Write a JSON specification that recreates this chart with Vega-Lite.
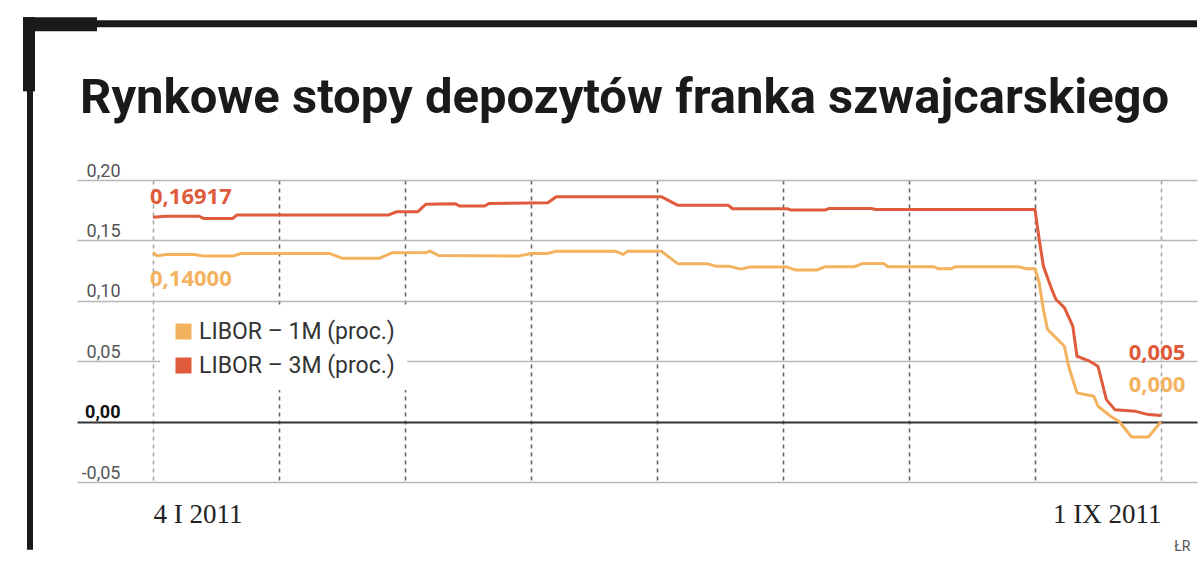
{
  "$schema": "https://vega.github.io/schema/vega-lite/v6.json",
  "width": 1120,
  "height": 302,
  "autosize": {"type": "none"},
  "padding": {"left": 77, "top": 180, "right": 3, "bottom": 81},
  "background": "white",
  "config": {"view": {"stroke": null}, "font": "Roboto"},
  "title": {
    "text": "Rynkowe stopy depozytów franka szwajcarskiego",
    "font": "Roboto",
    "fontSize": 49,
    "fontWeight": "bold",
    "color": "#1a1a1a",
    "anchor": "start",
    "frame": "group",
    "baseline": "alphabetic",
    "dx": 3,
    "offset": -145
  },
  "datasets": {
    "libor": [
      {"series": "LIBOR – 1M (proc.)", "date": "2011-01-04", "value": 0.1400},
      {"series": "LIBOR – 1M (proc.)", "date": "2011-01-05", "value": 0.1372},
      {"series": "LIBOR – 1M (proc.)", "date": "2011-01-07", "value": 0.1384},
      {"series": "LIBOR – 1M (proc.)", "date": "2011-01-14", "value": 0.1384},
      {"series": "LIBOR – 1M (proc.)", "date": "2011-01-16", "value": 0.1370},
      {"series": "LIBOR – 1M (proc.)", "date": "2011-01-23", "value": 0.1370},
      {"series": "LIBOR – 1M (proc.)", "date": "2011-01-25", "value": 0.1392},
      {"series": "LIBOR – 1M (proc.)", "date": "2011-02-15", "value": 0.1392},
      {"series": "LIBOR – 1M (proc.)", "date": "2011-02-18", "value": 0.1353},
      {"series": "LIBOR – 1M (proc.)", "date": "2011-02-27", "value": 0.1353},
      {"series": "LIBOR – 1M (proc.)", "date": "2011-03-02", "value": 0.1398},
      {"series": "LIBOR – 1M (proc.)", "date": "2011-03-10", "value": 0.1400},
      {"series": "LIBOR – 1M (proc.)", "date": "2011-03-11", "value": 0.1411},
      {"series": "LIBOR – 1M (proc.)", "date": "2011-03-13", "value": 0.1375},
      {"series": "LIBOR – 1M (proc.)", "date": "2011-04-01", "value": 0.1370},
      {"series": "LIBOR – 1M (proc.)", "date": "2011-04-04", "value": 0.1392},
      {"series": "LIBOR – 1M (proc.)", "date": "2011-04-08", "value": 0.1392},
      {"series": "LIBOR – 1M (proc.)", "date": "2011-04-10", "value": 0.1411},
      {"series": "LIBOR – 1M (proc.)", "date": "2011-04-24", "value": 0.1411},
      {"series": "LIBOR – 1M (proc.)", "date": "2011-04-26", "value": 0.1384},
      {"series": "LIBOR – 1M (proc.)", "date": "2011-04-27", "value": 0.1411},
      {"series": "LIBOR – 1M (proc.)", "date": "2011-05-05", "value": 0.1411},
      {"series": "LIBOR – 1M (proc.)", "date": "2011-05-09", "value": 0.1306},
      {"series": "LIBOR – 1M (proc.)", "date": "2011-05-16", "value": 0.1306},
      {"series": "LIBOR – 1M (proc.)", "date": "2011-05-18", "value": 0.1287},
      {"series": "LIBOR – 1M (proc.)", "date": "2011-05-21", "value": 0.1287},
      {"series": "LIBOR – 1M (proc.)", "date": "2011-05-24", "value": 0.1262},
      {"series": "LIBOR – 1M (proc.)", "date": "2011-05-26", "value": 0.1279},
      {"series": "LIBOR – 1M (proc.)", "date": "2011-06-04", "value": 0.1279},
      {"series": "LIBOR – 1M (proc.)", "date": "2011-06-06", "value": 0.1254},
      {"series": "LIBOR – 1M (proc.)", "date": "2011-06-11", "value": 0.1254},
      {"series": "LIBOR – 1M (proc.)", "date": "2011-06-13", "value": 0.1282},
      {"series": "LIBOR – 1M (proc.)", "date": "2011-06-20", "value": 0.1282},
      {"series": "LIBOR – 1M (proc.)", "date": "2011-06-22", "value": 0.1309},
      {"series": "LIBOR – 1M (proc.)", "date": "2011-06-27", "value": 0.1309},
      {"series": "LIBOR – 1M (proc.)", "date": "2011-06-28", "value": 0.1282},
      {"series": "LIBOR – 1M (proc.)", "date": "2011-07-09", "value": 0.1282},
      {"series": "LIBOR – 1M (proc.)", "date": "2011-07-10", "value": 0.1265},
      {"series": "LIBOR – 1M (proc.)", "date": "2011-07-13", "value": 0.1265},
      {"series": "LIBOR – 1M (proc.)", "date": "2011-07-14", "value": 0.1282},
      {"series": "LIBOR – 1M (proc.)", "date": "2011-07-29", "value": 0.1282},
      {"series": "LIBOR – 1M (proc.)", "date": "2011-07-31", "value": 0.1265},
      {"series": "LIBOR – 1M (proc.)", "date": "2011-08-02", "value": 0.1265},
      {"series": "LIBOR – 1M (proc.)", "date": "2011-08-03", "value": 0.1149},
      {"series": "LIBOR – 1M (proc.)", "date": "2011-08-04", "value": 0.0928},
      {"series": "LIBOR – 1M (proc.)", "date": "2011-08-05", "value": 0.0762},
      {"series": "LIBOR – 1M (proc.)", "date": "2011-08-09", "value": 0.0624},
      {"series": "LIBOR – 1M (proc.)", "date": "2011-08-10", "value": 0.0458},
      {"series": "LIBOR – 1M (proc.)", "date": "2011-08-12", "value": 0.0238},
      {"series": "LIBOR – 1M (proc.)", "date": "2011-08-16", "value": 0.0210},
      {"series": "LIBOR – 1M (proc.)", "date": "2011-08-17", "value": 0.0127},
      {"series": "LIBOR – 1M (proc.)", "date": "2011-08-20", "value": 0.0044},
      {"series": "LIBOR – 1M (proc.)", "date": "2011-08-22", "value": 0.0003},
      {"series": "LIBOR – 1M (proc.)", "date": "2011-08-25", "value": -0.0127},
      {"series": "LIBOR – 1M (proc.)", "date": "2011-08-29", "value": -0.0127},
      {"series": "LIBOR – 1M (proc.)", "date": "2011-09-01", "value": 0.0000},
      {"series": "LIBOR – 3M (proc.)", "date": "2011-01-04", "value": 0.16917},
      {"series": "LIBOR – 3M (proc.)", "date": "2011-01-07", "value": 0.1700},
      {"series": "LIBOR – 3M (proc.)", "date": "2011-01-15", "value": 0.1700},
      {"series": "LIBOR – 3M (proc.)", "date": "2011-01-16", "value": 0.1682},
      {"series": "LIBOR – 3M (proc.)", "date": "2011-01-23", "value": 0.1682},
      {"series": "LIBOR – 3M (proc.)", "date": "2011-01-24", "value": 0.1710},
      {"series": "LIBOR – 3M (proc.)", "date": "2011-03-01", "value": 0.1710},
      {"series": "LIBOR – 3M (proc.)", "date": "2011-03-03", "value": 0.1737},
      {"series": "LIBOR – 3M (proc.)", "date": "2011-03-08", "value": 0.1737},
      {"series": "LIBOR – 3M (proc.)", "date": "2011-03-10", "value": 0.1800},
      {"series": "LIBOR – 3M (proc.)", "date": "2011-03-17", "value": 0.1804},
      {"series": "LIBOR – 3M (proc.)", "date": "2011-03-18", "value": 0.1784},
      {"series": "LIBOR – 3M (proc.)", "date": "2011-03-24", "value": 0.1784},
      {"series": "LIBOR – 3M (proc.)", "date": "2011-03-25", "value": 0.1806},
      {"series": "LIBOR – 3M (proc.)", "date": "2011-04-08", "value": 0.1812},
      {"series": "LIBOR – 3M (proc.)", "date": "2011-04-10", "value": 0.1862},
      {"series": "LIBOR – 3M (proc.)", "date": "2011-05-05", "value": 0.1862},
      {"series": "LIBOR – 3M (proc.)", "date": "2011-05-09", "value": 0.1790},
      {"series": "LIBOR – 3M (proc.)", "date": "2011-05-21", "value": 0.1790},
      {"series": "LIBOR – 3M (proc.)", "date": "2011-05-22", "value": 0.1762},
      {"series": "LIBOR – 3M (proc.)", "date": "2011-06-04", "value": 0.1762},
      {"series": "LIBOR – 3M (proc.)", "date": "2011-06-05", "value": 0.1751},
      {"series": "LIBOR – 3M (proc.)", "date": "2011-06-13", "value": 0.1751},
      {"series": "LIBOR – 3M (proc.)", "date": "2011-06-14", "value": 0.1765},
      {"series": "LIBOR – 3M (proc.)", "date": "2011-06-24", "value": 0.1765},
      {"series": "LIBOR – 3M (proc.)", "date": "2011-06-25", "value": 0.1756},
      {"series": "LIBOR – 3M (proc.)", "date": "2011-08-02", "value": 0.1756},
      {"series": "LIBOR – 3M (proc.)", "date": "2011-08-03", "value": 0.1508},
      {"series": "LIBOR – 3M (proc.)", "date": "2011-08-04", "value": 0.1287},
      {"series": "LIBOR – 3M (proc.)", "date": "2011-08-06", "value": 0.1094},
      {"series": "LIBOR – 3M (proc.)", "date": "2011-08-07", "value": 0.1011},
      {"series": "LIBOR – 3M (proc.)", "date": "2011-08-09", "value": 0.0944},
      {"series": "LIBOR – 3M (proc.)", "date": "2011-08-11", "value": 0.0790},
      {"series": "LIBOR – 3M (proc.)", "date": "2011-08-12", "value": 0.0541},
      {"series": "LIBOR – 3M (proc.)", "date": "2011-08-15", "value": 0.0500},
      {"series": "LIBOR – 3M (proc.)", "date": "2011-08-17", "value": 0.0458},
      {"series": "LIBOR – 3M (proc.)", "date": "2011-08-19", "value": 0.0182},
      {"series": "LIBOR – 3M (proc.)", "date": "2011-08-21", "value": 0.0099},
      {"series": "LIBOR – 3M (proc.)", "date": "2011-08-26", "value": 0.0085},
      {"series": "LIBOR – 3M (proc.)", "date": "2011-08-29", "value": 0.0058},
      {"series": "LIBOR – 3M (proc.)", "date": "2011-09-01", "value": 0.0050}
    ]
  },
  "layer": [
    {
      "data": {"values": [{}]},
      "mark": {"type": "rect", "color": "#1a1a1a"},
      "encoding": {
        "x": {"datum": {"year": 2010, "month": 12, "date": 4, "hours": 1, "minutes": 9, "utc": true}, "type": "temporal",
          "scale": {"type": "utc", "domain": [{"year": 2010, "month": 12, "date": 16, "hours": 21, "minutes": 43, "utc": true}, {"year": 2011, "month": 9, "date": 9, "hours": 13, "minutes": 43, "utc": true}]}},
        "x2": {"datum": {"year": 2011, "month": 9, "date": 9, "hours": 13, "minutes": 43, "utc": true}},
        "y": {"datum": 0.33223, "type": "quantitative", "scale": {"domain": [-0.05, 0.2], "nice": false, "zero": false}},
        "y2": {"datum": 0.32643}
      }
    },
    {
      "data": {"values": [{}]},
      "mark": {"type": "rect", "color": "#1a1a1a"},
      "encoding": {
        "x": {"datum": {"year": 2010, "month": 12, "date": 4, "hours": 1, "minutes": 9, "utc": true}, "type": "temporal", "scale": {"type": "utc"}},
        "x2": {"datum": {"year": 2010, "month": 12, "date": 21, "hours": 16, "minutes": 0, "utc": true}},
        "y": {"datum": 0.33471, "type": "quantitative"},
        "y2": {"datum": 0.32311}
      }
    },
    {
      "data": {"values": [{}]},
      "mark": {"type": "rect", "color": "#1a1a1a"},
      "encoding": {
        "x": {"datum": {"year": 2010, "month": 12, "date": 5, "hours": 0, "minutes": 0, "utc": true}, "type": "temporal", "scale": {"type": "utc"}},
        "x2": {"datum": {"year": 2010, "month": 12, "date": 6, "hours": 10, "minutes": 17, "utc": true}},
        "y": {"datum": 0.33471, "type": "quantitative"},
        "y2": {"datum": -0.10605}
      }
    },
    {
      "data": {"values": [{}]},
      "mark": {"type": "rect", "color": "#1a1a1a"},
      "encoding": {
        "x": {"datum": {"year": 2010, "month": 12, "date": 4, "hours": 1, "minutes": 9, "utc": true}, "type": "temporal", "scale": {"type": "utc"}},
        "x2": {"datum": {"year": 2010, "month": 12, "date": 6, "hours": 21, "minutes": 43, "utc": true}},
        "y": {"datum": 0.33471, "type": "quantitative"},
        "y2": {"datum": 0.2734}
      }
    },
    {
      "data": {"name": "libor"},
      "mark": {"type": "line", "strokeWidth": 3, "strokeJoin": "round"},
      "encoding": {
        "x": {
          "field": "date", "type": "temporal", "scale": {"type": "utc"},
          "axis": {
            "title": "ŁR",
            "titleFont": "Roboto", "titleFontSize": 14, "titleFontWeight": "normal", "titleColor": "#555",
            "titleAnchor": "end", "titleAlign": "right", "titleBaseline": "alphabetic",
            "titleX": 1113, "titleY": 68,
            "values": [
              {"year": 2011, "month": 1, "date": 4, "utc": true},
              {"year": 2011, "month": 2, "date": 3, "utc": true},
              {"year": 2011, "month": 3, "date": 5, "utc": true},
              {"year": 2011, "month": 4, "date": 4, "utc": true},
              {"year": 2011, "month": 5, "date": 4, "utc": true},
              {"year": 2011, "month": 6, "date": 3, "utc": true},
              {"year": 2011, "month": 7, "date": 3, "utc": true},
              {"year": 2011, "month": 8, "date": 2, "utc": true},
              {"year": 2011, "month": 9, "date": 1, "utc": true}
            ],
            "labelExpr": "utcmonth(datum.value) == 0 ? '4 I 2011' : utcmonth(datum.value) == 8 ? '1 IX 2011' : ''",
            "labelAlign": {"condition": {"test": "utcmonth(datum.value) == 0", "value": "left"}, "value": "right"},
            "labelFont": "Liberation Serif", "labelFontSize": 27, "labelColor": "#222",
            "labelBaseline": "alphabetic", "labelPadding": 40, "labelFlush": false, "labelOverlap": false,
            "domain": false, "ticks": false, "tickSize": 0,
            "grid": true,
            "gridColor": {"condition": {"test": "utcmonth(datum.value) == 0 || utcmonth(datum.value) == 8", "value": "#a8a8a8"}, "value": "#666"},
            "gridDash": [4, 4],
            "gridWidth": 1.6
          }
        },
        "y": {
          "field": "value", "type": "quantitative",
          "axis": {
            "title": null,
            "values": [-0.05, 0, 0.05, 0.1, 0.15, 0.2],
            "labelExpr": "(datum.value < 0 ? '-' : '') + replace(format(abs(datum.value), '.2f'), '.', ',')",
            "labelFont": "Roboto", "labelFontSize": 18,
            "labelColor": {"condition": {"test": "datum.value == 0", "value": "#111"}, "value": "#555"},
            "labelFontWeight": {"condition": {"test": "datum.value == 0", "value": "bold"}, "value": "normal"},
            "labelAlign": "right", "labelBaseline": "alphabetic", "labelPadding": -43, "labelOffset": -4,
            "domain": false, "ticks": false, "tickSize": 0,
            "grid": true,
            "gridColor": {"condition": {"test": "datum.value == 0", "value": "#333"}, "value": "#b8b8b8"},
            "gridWidth": {"condition": {"test": "datum.value == 0", "value": 2.2}, "value": 1.3}
          }
        },
        "color": {
          "field": "series", "type": "nominal",
          "scale": {"domain": ["LIBOR – 1M (proc.)", "LIBOR – 3M (proc.)"], "range": ["#f3b25e", "#e05a3c"]},
          "legend": {
            "title": null, "orient": "none", "legendX": 83, "legendY": 128,
            "fillColor": "white", "padding": 12,
            "symbolType": "square", "symbolSize": 256, "symbolStrokeWidth": 0,
            "labelFont": "Roboto", "labelFontSize": 23, "labelColor": "#333", "labelOffset": 4,
            "labelLimit": 400,
            "rowPadding": 10,
            "encode": {"symbols": {"update": {"fill": {"scale": "color", "field": "value"}, "opacity": {"value": 1}}}}
          }
        }
      }
    },
    {
      "data": {"values": [{"label": "0,16917", "date": "2011-01-04", "value": 0.16917}]},
      "mark": {"type": "text", "font": "Open Sans", "fontWeight": "bold", "fontSize": 22, "color": "#e05a3c", "align": "left", "baseline": "alphabetic", "dx": -3, "dy": -13},
      "encoding": {"x": {"field": "date", "type": "temporal", "scale": {"type": "utc"}}, "y": {"field": "value", "type": "quantitative"}, "text": {"field": "label"}}
    },
    {
      "data": {"values": [{"label": "0,14000", "date": "2011-01-04", "value": 0.14}]},
      "mark": {"type": "text", "font": "Open Sans", "fontWeight": "bold", "fontSize": 22, "color": "#f3b25e", "align": "left", "baseline": "alphabetic", "dx": -3, "dy": 34},
      "encoding": {"x": {"field": "date", "type": "temporal", "scale": {"type": "utc"}}, "y": {"field": "value", "type": "quantitative"}, "text": {"field": "label"}}
    },
    {
      "data": {"values": [{"label": "0,005", "date": "2011-09-01", "value": 0.005}]},
      "mark": {"type": "text", "font": "Open Sans", "fontWeight": "bold", "fontSize": 22, "color": "#e05a3c", "align": "center", "baseline": "alphabetic", "dx": -4, "dy": -56},
      "encoding": {"x": {"field": "date", "type": "temporal", "scale": {"type": "utc"}}, "y": {"field": "value", "type": "quantitative"}, "text": {"field": "label"}}
    },
    {
      "data": {"values": [{"label": "0,000", "date": "2011-09-01", "value": 0}]},
      "mark": {"type": "text", "font": "Open Sans", "fontWeight": "bold", "fontSize": 22, "color": "#f3b25e", "align": "center", "baseline": "alphabetic", "dx": -4, "dy": -30},
      "encoding": {"x": {"field": "date", "type": "temporal", "scale": {"type": "utc"}}, "y": {"field": "value", "type": "quantitative"}, "text": {"field": "label"}}
    }
  ]
}
